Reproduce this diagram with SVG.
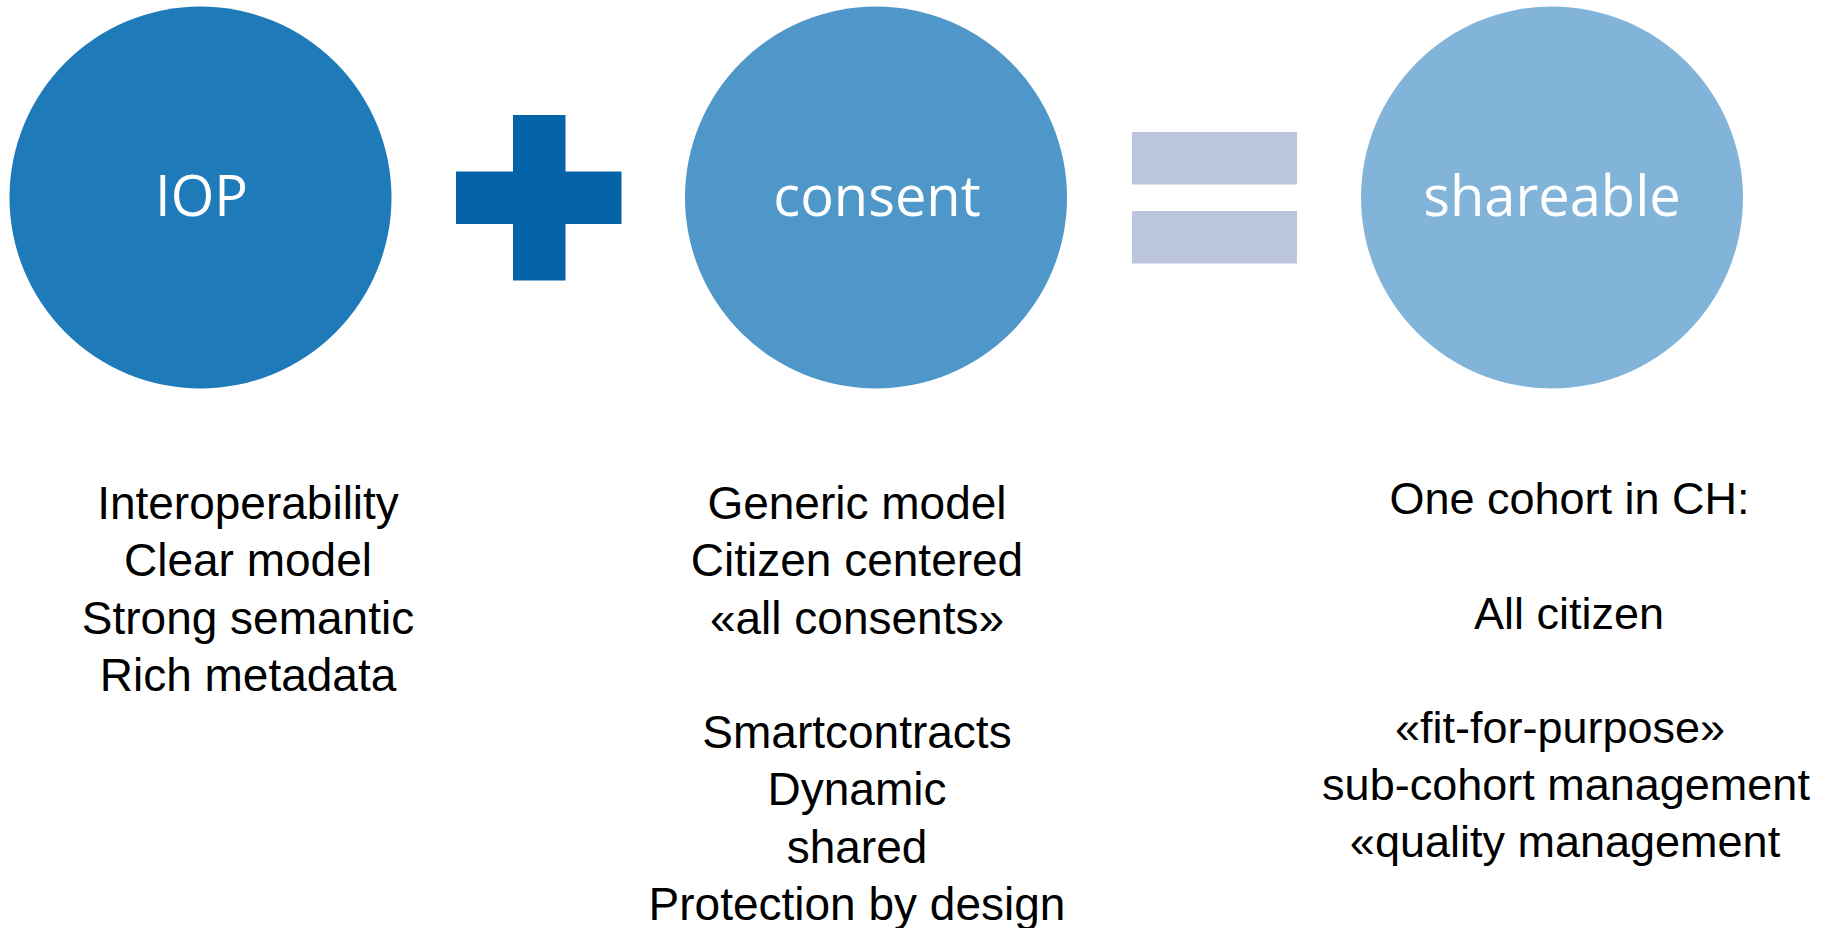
<svg xmlns="http://www.w3.org/2000/svg" width="1835" height="928" viewBox="0 0 1835 928">
  <style>
    .ctext { font-family: "Open Sans", "Noto Sans", sans-serif; font-size: 56px; fill: #ffffff; text-anchor: middle; }
    .btext { font-family: "Liberation Sans", Arial, sans-serif; font-size: 46px; fill: #000000; text-anchor: middle; }
    .btext3 { font-family: "Liberation Sans", Arial, sans-serif; font-size: 45px; fill: #000000; text-anchor: middle; }
  </style>
  <rect width="1835" height="928" fill="#ffffff"/>

  <g id="node-iop">
    <circle cx="200.5" cy="197.5" r="191" fill="#1E7AB8"/>
    <text class="ctext" x="201.5" y="215.7">IOP</text>
  </g>

  <g id="op-plus">
    <rect x="513" y="115" width="52.5" height="165.5" fill="#0563AA"/>
    <rect x="456" y="171.5" width="165.5" height="52.5" fill="#0563AA"/>
  </g>

  <g id="node-consent">
    <circle cx="876" cy="197.5" r="191" fill="#4F97C9"/>
    <text class="ctext" x="877" y="215.7">consent</text>
  </g>

  <g id="op-equals">
    <rect x="1132" y="132" width="165" height="52.5" fill="#BBC6DE"/>
    <rect x="1132" y="211" width="165" height="52.5" fill="#BBC6DE"/>
  </g>

  <g id="node-shareable">
    <circle cx="1552" cy="197.5" r="191" fill="#82B4D9"/>
    <text class="ctext" x="1552" y="215.7">shareable</text>
  </g>

  <g id="connectors"></g>

  <g id="text-iop">
    <text class="btext" x="248" y="519">Interoperability</text>
    <text class="btext" x="248" y="576.3">Clear model</text>
    <text class="btext" x="248" y="633.6">Strong semantic</text>
    <text class="btext" x="248" y="691">Rich metadata</text>
  </g>

  <g id="text-consent">
    <text class="btext" x="857" y="519">Generic model</text>
    <text class="btext" x="857" y="576.3">Citizen centered</text>
    <text class="btext" x="857" y="633.6">«all consents»</text>
    <text class="btext" x="857" y="748">Smartcontracts</text>
    <text class="btext" x="857" y="805.3">Dynamic</text>
    <text class="btext" x="857" y="862.7">shared</text>
    <text class="btext" x="857" y="920">Protection by design</text>
  </g>

  <g id="text-shareable">
    <text class="btext3" x="1569.5" y="513.5">One cohort in CH:</text>
    <text class="btext3" x="1569" y="629">All citizen</text>
    <text class="btext3" x="1560" y="743">«fit-for-purpose»</text>
    <text class="btext3" x="1566" y="800">sub-cohort management</text>
    <text class="btext3" x="1565" y="856.5">«quality management</text>
  </g>
</svg>
